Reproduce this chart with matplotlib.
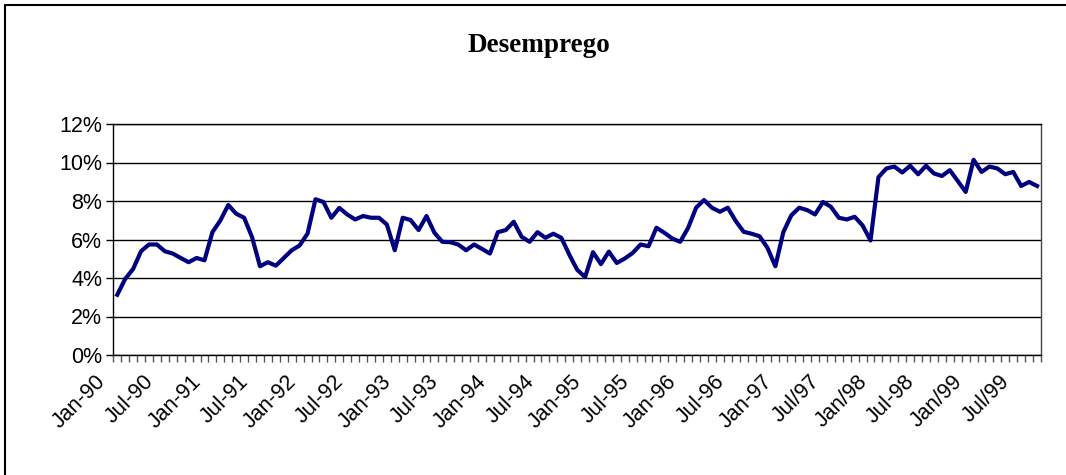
import matplotlib
matplotlib.use("Agg")
import matplotlib.pyplot as plt
from matplotlib.patches import Rectangle
from matplotlib.ticker import FixedLocator, FuncFormatter, NullFormatter
from matplotlib.transforms import ScaledTranslation

title = "Desemprego"
tick_labels = ["Jan-90", "Jul-90", "Jan-91", "Jul-91", "Jan-92", "Jul-92",
               "Jan-93", "Jul-93", "Jan-94", "Jul-94", "Jan-95", "Jul-95",
               "Jan-96", "Jul-96", "Jan-97", "Jul/97", "Jan/98", "Jul-98",
               "Jan/99", "Jul/99"]
# monthly unemployment rate (%), Jan-1990 .. Sep-1999
unemployment = [
    3.13, 3.95, 4.47, 5.39, 5.74, 5.74, 5.39, 5.27, 5.04, 4.82, 5.04, 4.92,
    6.38, 6.99, 7.79, 7.34, 7.13, 6.12, 4.61, 4.82, 4.64, 5.04, 5.44, 5.69,
    6.31, 8.09, 7.95, 7.13, 7.64, 7.30, 7.04, 7.22, 7.13, 7.13, 6.78, 5.44,
    7.13, 7.01, 6.49, 7.22, 6.35, 5.88, 5.86, 5.74, 5.44, 5.74, 5.51, 5.27,
    6.38, 6.49, 6.92, 6.14, 5.88, 6.38, 6.09, 6.30, 6.09, 5.22, 4.43, 4.05,
    5.34, 4.72, 5.37, 4.78, 5.01, 5.30, 5.74, 5.65, 6.61, 6.35, 6.05, 5.88,
    6.61, 7.65, 8.05, 7.65, 7.44, 7.65, 6.96, 6.40, 6.30, 6.17, 5.57, 4.61,
    6.38, 7.25, 7.65, 7.53, 7.30, 7.95, 7.70, 7.13, 7.04, 7.18, 6.73, 5.95,
    9.24, 9.69, 9.79, 9.48, 9.83, 9.39, 9.83, 9.43, 9.30, 9.60, 9.04, 8.47,
    10.14, 9.51, 9.79, 9.69, 9.39, 9.51, 8.78, 8.99, 8.78,
]
yticks = [0, 2, 4, 6, 8, 10, 12]

W, H = 1066, 475
fig = plt.figure(figsize=(W / 100, H / 100), dpi=100)
fig.patch.set_facecolor("white")

# outer chart border
fig.add_artist(Rectangle((5 / W, -0.01), 1.02, 1 - 5 / H + 0.01,
                         transform=fig.transFigure, fill=False,
                         edgecolor="black", linewidth=1.5))

ax = fig.add_axes([113.3 / W, 1 - 355 / H, (1041 - 113.3) / W, (355 - 124) / H])
n = len(unemployment)
x = list(range(n))
ax.plot(x, unemployment, color="#000080", linewidth=3.0, solid_joinstyle="round")

ax.set_xlim(-0.5, n - 0.5)
ax.set_ylim(0, 12)

ax.set_yticks(yticks)
ax.yaxis.set_major_formatter(FuncFormatter(lambda v, p: f"{int(v)}%"))
ax.grid(axis="y", color="black", linewidth=1.0)
ax.set_axisbelow(True)

# category boundary ticks
ax.xaxis.set_major_locator(FixedLocator([k - 0.5 for k in range(n + 1)]))
ax.xaxis.set_major_formatter(NullFormatter())
ax.tick_params(axis="x", which="major", length=5, width=1, color="#555555",
               direction="out")

# category labels every 6 months, placed at the category centres
label_pos = [6 * k for k in range(len(tick_labels))]
trans = ax.get_xaxis_transform() + ScaledTranslation(-0.22, -0.16, fig.dpi_scale_trans)
for pos, lab in zip(label_pos, tick_labels):
    ax.text(pos, 0, lab, transform=trans, rotation=45, rotation_mode="anchor",
            ha="right", va="top", fontsize=15.5, family="Liberation Sans",
            clip_on=False)

ax.tick_params(axis="y", length=5, width=1, color="black", direction="out",
               labelsize=15.5, pad=3)
for lab in ax.get_yticklabels():
    lab.set_family("Liberation Sans")

for s in ax.spines.values():
    s.set_color("black")
    s.set_linewidth(1.0)
ax.spines["right"].set_color("#444444")

fig.text(539 / W, 1 - 46 / H, title, ha="center", va="center",
         fontsize=19.5, fontweight="bold", family="Liberation Serif")

fig.savefig("out.png", dpi=100)
